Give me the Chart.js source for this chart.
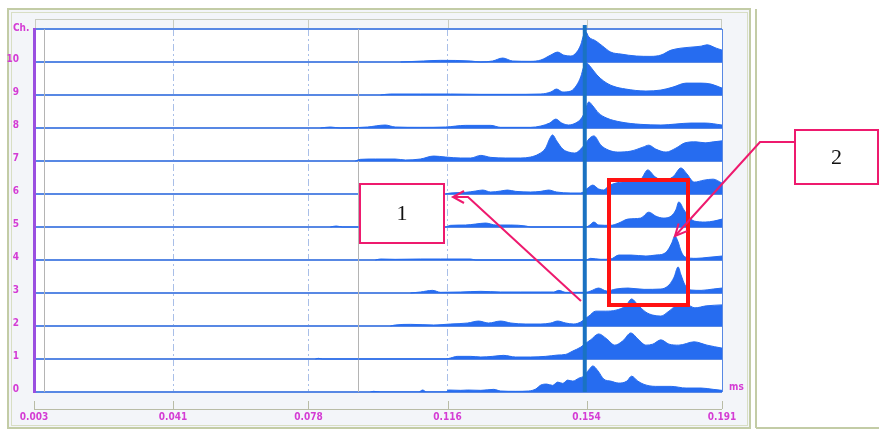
<!DOCTYPE html>
<html>
<head>
<meta charset="utf-8">
<script src="https://cdn.jsdelivr.net/npm/chart.js@4.4.1/dist/chart.umd.min.js"></script>
<style>
  html, body { margin: 0; padding: 0; background: #fff; }
  #wrap { position: relative; width: 879px; height: 438px; }
</style>
</head>
<body>
<div id="wrap"><canvas id="grafica" width="879" height="438"></canvas></div>
<script>
// canales y eje de tiempo (ms)
const channels = [0, 1, 2, 3, 4, 5, 6, 7, 8, 9, 10];
const xTicksMs = [0.003, 0.041, 0.078, 0.116, 0.154, 0.191];
const markerMs = 0.1535;      // linea vertical gruesa
const cursorsMs = [0.0057, 0.0914];

// forma de onda de cada canal: [tiempo ms, amplitud relativa a la separacion]
const ch0 = [[0.0949,0],[0.0958,0.02],[0.0977,0],[0.1081,0],[0.1092,0.06],[0.1103,0],[0.1155,0],[0.1163,0.06],[0.1196,0.05],[0.1215,0.06],[0.1251,0.05],[0.1286,0.08],[0.1305,0.03],[0.1346,0.02],[0.1382,0.03],[0.1401,0.09],[0.1415,0.21],[0.1431,0.24],[0.1447,0.20],[0.1461,0.30],[0.1475,0.26],[0.1488,0.36],[0.1502,0.33],[0.1519,0.42],[0.1532,0.48],[0.1546,0.67],[0.1557,0.79],[0.1571,0.64],[0.1587,0.39],[0.1606,0.33],[0.1628,0.27],[0.1650,0.33],[0.1663,0.48],[0.1680,0.33],[0.1697,0.23],[0.1729,0.17],[0.1771,0.17],[0.1812,0.12],[0.1853,0.12],[0.1886,0.08],[0.1910,0.05]];
const ch1 = [[0.0799,0],[0.0807,0.02],[0.0818,0],[0.1155,0],[0.1168,0.03],[0.1187,0.08],[0.1223,0.08],[0.1251,0.06],[0.1283,0.08],[0.1313,0.11],[0.1346,0.06],[0.1387,0.06],[0.1428,0.08],[0.1461,0.12],[0.1483,0.14],[0.1502,0.24],[0.1524,0.36],[0.1538,0.48],[0.1551,0.58],[0.1573,0.76],[0.1595,0.61],[0.1617,0.42],[0.1639,0.55],[0.1661,0.79],[0.1680,0.61],[0.1702,0.42],[0.1721,0.45],[0.1743,0.58],[0.1765,0.45],[0.1792,0.42],[0.1834,0.52],[0.1869,0.42],[0.1910,0.33]];
const ch2 = [[0.1004,0],[0.1017,0.03],[0.1059,0.05],[0.1122,0.03],[0.1168,0.06],[0.1215,0.09],[0.1245,0.15],[0.1272,0.09],[0.1305,0.15],[0.1333,0.09],[0.1374,0.06],[0.1415,0.06],[0.1442,0.09],[0.1461,0.15],[0.1483,0.09],[0.1505,0.06],[0.1524,0.12],[0.1535,0.21],[0.1546,0.30],[0.1565,0.45],[0.1592,0.45],[0.1620,0.48],[0.1647,0.61],[0.1663,0.82],[0.1680,0.64],[0.1702,0.42],[0.1721,0.33],[0.1743,0.30],[0.1765,0.45],[0.1790,0.64],[0.1814,0.64],[0.1836,0.55],[0.1867,0.61],[0.1910,0.64]];
const ch3 = [[0.1059,0],[0.1086,0.03],[0.1119,0.08],[0.1141,0.02],[0.1196,0.03],[0.1251,0.05],[0.1305,0.03],[0.1360,0.03],[0.1415,0.03],[0.1450,0.03],[0.1464,0.08],[0.1483,0.02],[0.1538,0.02],[0.1551,0.06],[0.1573,0.15],[0.1595,0.06],[0.1620,0.12],[0.1653,0.15],[0.1697,0.11],[0.1743,0.12],[0.1765,0.24],[0.1779,0.48],[0.1790,0.79],[0.1798,0.55],[0.1809,0.24],[0.1825,0.09],[0.1853,0.08],[0.1886,0.12],[0.1910,0.15]];
const ch4 = [[0.0963,0],[0.0977,0.03],[0.1017,0.02],[0.1086,0.03],[0.1141,0.03],[0.1223,0.03],[0.1237,0],[0.1538,0],[0.1551,0.05],[0.1579,0.02],[0.1606,0.03],[0.1628,0.15],[0.1661,0.15],[0.1702,0.12],[0.1729,0.15],[0.1749,0.18],[0.1762,0.30],[0.1773,0.52],[0.1781,0.73],[0.1790,0.55],[0.1798,0.27],[0.1809,0.09],[0.1839,0.05],[0.1872,0.08],[0.1910,0.12]];
const ch5 = [[0.0840,0],[0.0856,0.03],[0.0873,0],[0.1155,0],[0.1168,0.05],[0.1209,0.06],[0.1237,0.09],[0.1264,0.12],[0.1292,0.06],[0.1333,0.06],[0.1374,0.03],[0.1387,0],[0.1538,0],[0.1549,0.06],[0.1560,0.15],[0.1573,0.06],[0.1606,0.05],[0.1628,0.12],[0.1653,0.24],[0.1688,0.27],[0.1710,0.45],[0.1729,0.33],[0.1749,0.27],[0.1771,0.33],[0.1784,0.52],[0.1792,0.76],[0.1806,0.52],[0.1820,0.30],[0.1834,0.18],[0.1864,0.15],[0.1888,0.18],[0.1910,0.24]];
const ch6 = [[0.1155,0],[0.1168,0.03],[0.1209,0.05],[0.1237,0.09],[0.1256,0.12],[0.1278,0.06],[0.1305,0.09],[0.1324,0.12],[0.1346,0.08],[0.1387,0.06],[0.1415,0.08],[0.1436,0.12],[0.1458,0.06],[0.1497,0.03],[0.1524,0.03],[0.1540,0.15],[0.1557,0.27],[0.1573,0.15],[0.1587,0.12],[0.1600,0.24],[0.1620,0.33],[0.1655,0.39],[0.1688,0.45],[0.1707,0.73],[0.1727,0.52],[0.1749,0.42],[0.1776,0.52],[0.1798,0.79],[0.1814,0.61],[0.1834,0.36],[0.1861,0.42],[0.1886,0.45],[0.1910,0.33]];
const ch7 = [[0.0908,0],[0.0922,0.05],[0.0963,0.06],[0.1017,0.06],[0.1045,0.03],[0.1086,0.06],[0.1122,0.15],[0.1155,0.12],[0.1196,0.09],[0.1223,0.09],[0.1251,0.17],[0.1278,0.11],[0.1319,0.09],[0.1360,0.09],[0.1387,0.12],[0.1409,0.21],[0.1428,0.39],[0.1439,0.67],[0.1447,0.79],[0.1458,0.61],[0.1475,0.36],[0.1491,0.27],[0.1508,0.24],[0.1524,0.36],[0.1538,0.55],[0.1549,0.70],[0.1560,0.76],[0.1579,0.48],[0.1600,0.33],[0.1625,0.27],[0.1661,0.30],[0.1694,0.42],[0.1710,0.48],[0.1729,0.36],[0.1757,0.27],[0.1784,0.39],[0.1809,0.55],[0.1839,0.58],[0.1864,0.55],[0.1886,0.58],[0.1910,0.61]];
const ch8 = [[0.0813,0],[0.0840,0.03],[0.0867,0],[0.0941,0.03],[0.0990,0.09],[0.1017,0.03],[0.1086,0.02],[0.1155,0.03],[0.1209,0.08],[0.1278,0.08],[0.1305,0.02],[0.1387,0.02],[0.1415,0.06],[0.1439,0.15],[0.1456,0.27],[0.1472,0.15],[0.1491,0.09],[0.1510,0.15],[0.1524,0.27],[0.1535,0.48],[0.1546,0.79],[0.1557,0.67],[0.1573,0.45],[0.1595,0.30],[0.1634,0.18],[0.1688,0.11],[0.1743,0.09],[0.1784,0.12],[0.1825,0.15],[0.1864,0.15],[0.1910,0.09]];
const ch9 = [[0.0977,0],[0.1004,0.03],[0.1086,0.03],[0.1168,0.03],[0.1251,0.02],[0.1333,0.02],[0.1415,0.03],[0.1442,0.09],[0.1458,0.18],[0.1475,0.09],[0.1497,0.12],[0.1513,0.30],[0.1524,0.55],[0.1532,0.85],[0.1540,0.97],[0.1551,0.85],[0.1568,0.61],[0.1587,0.42],[0.1612,0.27],[0.1647,0.18],[0.1702,0.12],[0.1743,0.15],[0.1776,0.24],[0.1812,0.36],[0.1853,0.36],[0.1880,0.33],[0.1910,0.21]];
const ch10 = [[0.1032,0],[0.1094,0.03],[0.1141,0.05],[0.1223,0.03],[0.1251,0],[0.1283,0.03],[0.1311,0.12],[0.1338,0.03],[0.1387,0.02],[0.1415,0.06],[0.1442,0.21],[0.1461,0.30],[0.1477,0.21],[0.1497,0.18],[0.1513,0.30],[0.1524,0.52],[0.1532,0.82],[0.1538,0.91],[0.1546,0.76],[0.1565,0.64],[0.1584,0.48],[0.1606,0.30],[0.1634,0.24],[0.1676,0.18],[0.1716,0.17],[0.1743,0.21],[0.1771,0.36],[0.1798,0.42],[0.1825,0.45],[0.1853,0.48],[0.1869,0.52],[0.1894,0.42],[0.1910,0.36]];
const waves = [ch0, ch1, ch2, ch3, ch4, ch5, ch6, ch7, ch8, ch9, ch10];

const azulRelleno = 'rgb(38, 108, 240)';
const azulBase = 'rgb(88, 136, 228)';
const magenta = '#d43cd4';
const rosa = '#ee1a6e';
const fuenteEje = "'Liberation Sans Narrow', 'DejaVu Sans Condensed', sans-serif";

// marco, fondo, flechas y recuadros
const decorado = {
    id: 'decorado',
    beforeDraw(chart) {
        const ctx = chart.ctx;
        const a = chart.chartArea;
        ctx.save();
        ctx.fillStyle = '#fff';
        ctx.fillRect(0, 0, chart.width, chart.height);
        // panel
        ctx.fillStyle = '#f3f5f9';
        ctx.fillRect(8, 9, 742, 419);
        ctx.strokeStyle = '#c3cca6';
        ctx.lineWidth = 2;
        ctx.strokeRect(8, 9, 742, 419);
        ctx.strokeStyle = '#d8dec4';
        ctx.lineWidth = 1;
        ctx.strokeRect(11.5, 12.5, 736, 413);
        ctx.strokeStyle = '#c3cca6';
        ctx.lineWidth = 2;
        ctx.beginPath();
        ctx.moveTo(756, 9); ctx.lineTo(756, 428);
        ctx.moveTo(756, 428); ctx.lineTo(879, 428);
        ctx.stroke();
        // franja superior
        const sx = chart.scales.x;
        ctx.strokeStyle = '#c9ccc0';
        ctx.lineWidth = 1;
        ctx.strokeRect(35.5, 19.5, a.right - 36, a.top - 19);
        ctx.beginPath();
        xTicksMs.slice(1, -1).forEach(v => {
            const px = Math.round(sx.getPixelForValue(v)) + 0.5;
            ctx.moveTo(px, 19); ctx.lineTo(px, a.top);
        });
        ctx.stroke();
        // area del grafico
        ctx.fillStyle = '#fff';
        ctx.fillRect(a.left, a.top, a.right - a.left, a.bottom - a.top);
        // regla inferior
        ctx.strokeStyle = '#b9bca6';
        ctx.beginPath();
        ctx.moveTo(sx.getPixelForValue(xTicksMs[0]), 409.5);
        ctx.lineTo(sx.getPixelForValue(xTicksMs[xTicksMs.length - 1]), 409.5);
        xTicksMs.forEach(v => {
            const px = Math.round(sx.getPixelForValue(v)) + 0.5;
            ctx.moveTo(px, 401); ctx.lineTo(px, 409);
        });
        ctx.stroke();
        ctx.restore();
    },
    beforeDatasetsDraw(chart) {
        const ctx = chart.ctx;
        const a = chart.chartArea;
        const sx = chart.scales.x;
        ctx.save();
        ctx.strokeStyle = '#b4b4b4';
        ctx.lineWidth = 1;
        ctx.beginPath();
        cursorsMs.forEach(v => {
            const px = Math.round(sx.getPixelForValue(v)) + 0.5;
            ctx.moveTo(px, a.top); ctx.lineTo(px, a.bottom);
        });
        ctx.stroke();
        ctx.restore();
    },
    afterDraw(chart) {
        const ctx = chart.ctx;
        const a = chart.chartArea;
        const sx = chart.scales.x;
        ctx.save();
        // borde derecho
        ctx.strokeStyle = azulBase;
        ctx.lineWidth = 1;
        ctx.beginPath();
        ctx.moveTo(a.right + 0.5, a.top); ctx.lineTo(a.right + 0.5, a.bottom);
        ctx.stroke();
        // linea del marcador
        const mx = sx.getPixelForValue(markerMs);
        ctx.strokeStyle = '#1a72c2';
        ctx.lineWidth = 4;
        ctx.beginPath();
        ctx.moveTo(mx, 25); ctx.lineTo(mx, a.bottom);
        ctx.stroke();
        // textos del eje
        ctx.fillStyle = magenta;
        ctx.font = 'bold 10px ' + fuenteEje;
        ctx.textBaseline = 'middle';
        ctx.textAlign = 'left';
        ctx.fillText('Ch.', 13, 28);
        ctx.fillText('ms', 729, 387);
        // recuadro rojo
        ctx.strokeStyle = '#ff1212';
        ctx.lineWidth = 4;
        ctx.strokeRect(609, 180, 79, 125);
        // flechas
        ctx.strokeStyle = rosa;
        ctx.lineWidth = 2;
        ctx.beginPath();
        ctx.moveTo(581, 301); ctx.lineTo(468, 197); ctx.lineTo(453, 197);
        ctx.moveTo(464, 191); ctx.lineTo(453, 197); ctx.lineTo(464, 203);
        ctx.stroke();
        ctx.beginPath();
        ctx.moveTo(795, 142); ctx.lineTo(760, 142); ctx.lineTo(675, 236);
        ctx.stroke();
        const ang = Math.atan2(236 - 142, 675 - 760);
        ctx.beginPath();
        ctx.moveTo(675 - 13 * Math.cos(ang - 0.45), 236 - 13 * Math.sin(ang - 0.45));
        ctx.lineTo(675, 236);
        ctx.lineTo(675 - 13 * Math.cos(ang + 0.45), 236 - 13 * Math.sin(ang + 0.45));
        ctx.stroke();
        // recuadros con numero
        [[360, 184, 84, 59, '1'], [795, 130, 83, 54, '2']].forEach(([x, y, w, h, t]) => {
            ctx.fillStyle = '#fff';
            ctx.fillRect(x, y, w, h);
            ctx.strokeStyle = rosa;
            ctx.lineWidth = 2;
            ctx.strokeRect(x, y, w, h);
            ctx.fillStyle = '#111';
            ctx.font = "22px 'Liberation Serif', 'DejaVu Serif', serif";
            ctx.textAlign = 'center';
            ctx.textBaseline = 'middle';
            ctx.fillText(t, x + w / 2, y + h / 2 + 1);
        });
        ctx.restore();
    }
};

const $grafica = document.querySelector('#grafica');
new Chart($grafica, {
    type: 'line',
    data: {
        datasets: channels.map((ch, i) => ({
            label: 'Ch ' + ch,
            data: waves[i].map(([t, amp]) => ({ x: t, y: ch + amp })),
            fill: { value: ch },
            backgroundColor: azulRelleno,
            borderColor: azulRelleno,
            borderWidth: 1,
            pointRadius: 0,
            cubicInterpolationMode: 'monotone'
        }))
    },
    options: {
        responsive: false,
        animation: false,
        events: [],
        layout: { padding: { left: 0, top: 29, right: 157, bottom: 0 } },
        plugins: {
            legend: { display: false },
            tooltip: { enabled: false }
        },
        scales: {
            x: {
                type: 'linear',
                min: 0.003,
                max: 0.191,
                afterBuildTicks: s => { s.ticks = xTicksMs.map(v => ({ value: v })); },
                afterFit: s => { s.height = 46; },
                ticks: {
                    autoSkip: false,
                    maxRotation: 0,
                    padding: 19,
                    color: magenta,
                    font: { family: fuenteEje, size: 10, weight: 'bold' },
                    callback: v => v.toFixed(3)
                },
                grid: {
                    drawTicks: false,
                    lineWidth: 1,
                    color: c => (c.index > 0 && c.index < 4) ? '#a9bfe8' : 'rgba(0,0,0,0)'
                },
                border: { display: false, dash: [7, 3, 2, 3] }
            },
            y: {
                type: 'linear',
                min: 0,
                max: 11,
                afterFit: s => { s.width = 34; },
                ticks: {
                    stepSize: 1,
                    padding: 15,
                    labelOffset: -3,
                    color: magenta,
                    font: { family: fuenteEje, size: 10, weight: 'bold' },
                    callback: v => v === 11 ? '' : v
                },
                grid: {
                    drawTicks: false,
                    color: azulBase,
                    lineWidth: 2
                },
                border: { color: '#9a4fe0', width: 3 }
            }
        }
    },
    plugins: [decorado]
});
</script>
</body>
</html>
